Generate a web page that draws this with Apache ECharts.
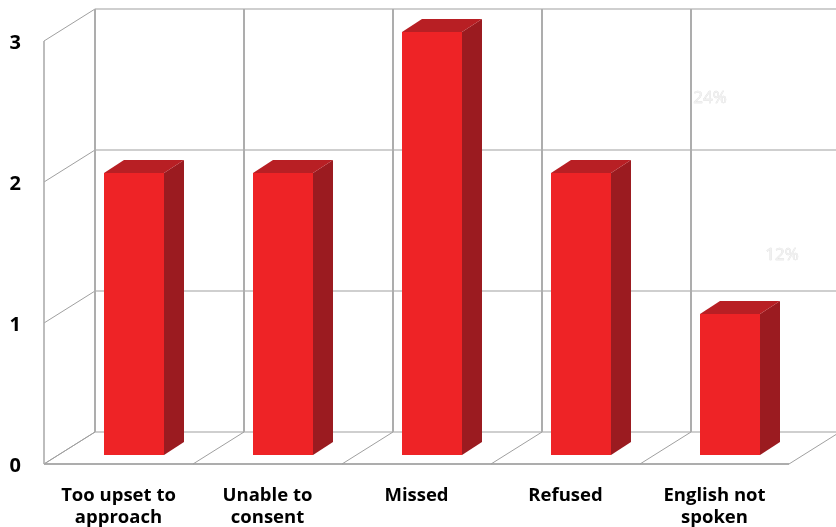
<!DOCTYPE html>
<html><head><meta charset="utf-8">
<style>html,body{margin:0;padding:0;background:#fff}#c{width:836px;height:527px}</style>
<script src="https://cdn.jsdelivr.net/npm/echarts@6/dist/echarts.min.js"></script>
</head><body><div id="c"></div>
<script>
var categories = ['Too upset to\napproach','Unable to\nconsent','Missed','Refused','English not\nspoken'];
var values = [2,2,3,2,1];
var yTicks = [0,1,2,3];
var ghostLabels = ['24%','12%'];

var WALL = [51,-32], BAR_IN = [15.5,-9], BAR_W = 60, BAR_D = [20,-13];
var GREY = '#a0a0a0', GREY2 = '#adadad';
var chart = echarts.init(document.getElementById('c'), null, {renderer:'canvas'});

function line(pts, color, w){
  return {type:'polyline', shape:{points:pts}, style:{fill:null, stroke:color, lineWidth:w}, silent:true};
}
function poly(pts, color){
  return {type:'polygon', shape:{points:pts}, style:{fill:color, stroke:null}, silent:true};
}
chart.setOption({
  animation:false,
  backgroundColor:'#fff',
  grid:{left:44, top:41, width:745, height:423, containLabel:false, outerBoundsMode:'none'},
  xAxis:{type:'category', data:categories, axisLine:{show:false}, axisTick:{show:false}, splitLine:{show:false},
    axisLabel:{interval:0, margin:21, color:'#000', fontFamily:'Open Sans', fontWeight:'bold', fontSize:18.5, lineHeight:22, verticalAlign:'top'}},
  yAxis:{type:'value', min:0, max:3, interval:1, axisLine:{show:false}, axisTick:{show:false}, splitLine:{show:false},
    axisLabel:{margin:23, formatter:'{a|{value}}', rich:{a:{color:'#000', fontFamily:'Open Sans', fontWeight:'bold', fontSize:20, padding:[4,0,0,0]}}}},
  graphic:[
    {type:'text', left:693, top:89, silent:true, style:{text:ghostLabels[0], fill:'#f0f0f0', stroke:'#d8d8d8', lineWidth:0.5, font:'17px "Open Sans"'}},
    {type:'text', left:765, top:246, silent:true, style:{text:ghostLabels[1], fill:'#f0f0f0', stroke:'#d8d8d8', lineWidth:0.5, font:'17px "Open Sans"'}}
  ],
  series:[
    {type:'custom', name:'wall-h', coordinateSystem:'cartesian2d', z:1, clip:false, silent:true,
     data:yTicks.map(function(v){return [0,v];}),
     renderItem:function(p,api){
       var v=api.value(1), c=api.coord([0,v]), hw=api.size([1,0])[0]/2;
       var x0=c[0]-hw, y=c[1];
       var kids=[line([[x0,y],[x0+WALL[0],y+WALL[1]]],GREY,1),
                 line([[x0+WALL[0],y+WALL[1]],[836,y+WALL[1]]],GREY,1.2)];
       if(v===0) kids.push(line([[x0,y],[x0+hw*10,y]],GREY2,2));
       return {type:'group',children:kids};
     }},
    {type:'custom', name:'wall-v', coordinateSystem:'cartesian2d', z:2, clip:false, silent:true,
     data:categories.map(function(_,i){return [i,0];}).concat([[categories.length,0]]),
     renderItem:function(p,api){
       var i=api.value(0), hw=api.size([1,0])[0]/2;
       var base=api.coord([0,0]), top=api.coord([0,3]);
       var x=base[0]-hw+i*hw*2, kids=[];
       kids.push(line([[x,base[1]],[x+WALL[0],base[1]+WALL[1]]],GREY,1));
       if(i<categories.length) kids.push(line([[x+WALL[0],base[1]+WALL[1]],[x+WALL[0],top[1]+WALL[1]]],GREY2,2));
       if(i===0) kids.push(line([[x,base[1]],[x,top[1]]],GREY2,1.6));
       return {type:'group',children:kids};
     }},
    {type:'custom', name:'bars', coordinateSystem:'cartesian2d', z:3, clip:false, silent:true,
     data:values.map(function(v,i){return [i,v];}),
     renderItem:function(p,api){
       var i=api.value(0), v=api.value(1);
       var c=api.coord([i,v]), b=api.coord([i,0]);
       var l=c[0]+BAR_IN[0]-BAR_W/2, r=l+BAR_W, t=c[1]+BAR_IN[1], bt=b[1]+BAR_IN[1];
       var dx=BAR_D[0], dy=BAR_D[1];
       return {type:'group',children:[
         poly([[r,t],[r+dx,t+dy],[r+dx,bt+dy],[r,bt]],'#9b1b20'),
         poly([[l,t],[l+dx,t+dy],[r+dx,t+dy],[r,t]],'#b81f24'),
         poly([[l,t],[r,t],[r,bt],[l,bt]],'#ee2326')
       ]};
     }}
  ]
});
</script></body></html>
